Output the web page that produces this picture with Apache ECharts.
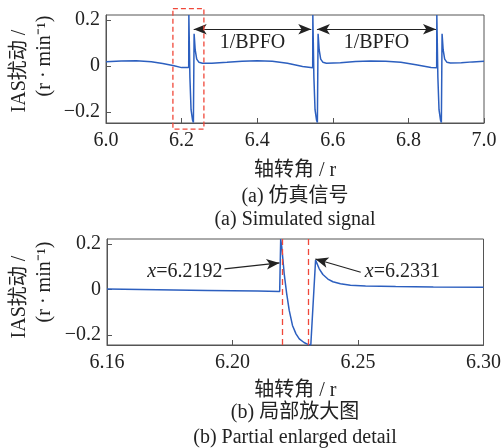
<!DOCTYPE html>
<html>
<head>
<meta charset="utf-8">
<script src="https://cdn.jsdelivr.net/npm/echarts@6/dist/echarts.min.js"></script>
<style>
  html, body { margin: 0; padding: 0; background: #fff; }
  #chart { width: 504px; height: 448px; }
</style>
</head>
<body>
<div id="chart"></div>
<script>
// (a) simulated signal, shaft angle in r and IAS disturbance
const topAngle = [
  6.000, 6.040, 6.080, 6.120, 6.150, 6.180, 6.200, 6.2188,
  6.2192, 6.2220, 6.2250, 6.2290, 6.2312, 6.2331, 6.2360, 6.2400, 6.2460, 6.2550,
  6.280, 6.320, 6.360, 6.400, 6.440, 6.480, 6.520, 6.5468,
  6.5472, 6.5500, 6.5530, 6.5570, 6.5592, 6.5611, 6.5640, 6.5680, 6.5740, 6.5830,
  6.620, 6.660, 6.700, 6.740, 6.780, 6.820, 6.860, 6.8748,
  6.8752, 6.8780, 6.8810, 6.8850, 6.8872, 6.8891, 6.8920, 6.8960, 6.9020, 6.9110,
  6.940, 6.970, 7.000
];
const topIAS = [
  0.019, 0.022, 0.023, 0.019, 0.011, 0.001, -0.007, -0.007,
  0.222, -0.050, -0.190, -0.236, -0.246, 0.140, 0.070, 0.030, 0.016, 0.012,
  0.012, 0.016, 0.021, 0.023, 0.021, 0.012, -0.002, -0.008,
  0.222, -0.050, -0.190, -0.236, -0.246, 0.140, 0.070, 0.030, 0.016, 0.012,
  0.014, 0.020, 0.022, 0.021, 0.016, 0.005, -0.006, -0.008,
  0.222, -0.050, -0.190, -0.236, -0.246, 0.140, 0.070, 0.030, 0.016, 0.013,
  0.014, 0.018, 0.021
];

// (b) partial enlarged detail
const zoomAngle = [
  6.150, 6.170, 6.190, 6.210, 6.2188,
  6.2192, 6.2196, 6.2200, 6.2206, 6.2216, 6.2226, 6.2239, 6.2253, 6.2266,
  6.2285, 6.2300, 6.2312, 6.2316,
  6.2331, 6.2345, 6.2360, 6.2380, 6.2400, 6.2430, 6.2470, 6.2530, 6.2650, 6.2800, 6.3000
];
const zoomIAS = [
  0.002, -0.001, -0.004, -0.007, -0.009,
  0.222, 0.190, 0.142, 0.069, -0.019, -0.092, -0.158, -0.195, -0.217,
  -0.233, -0.241, -0.244, -0.244,
  0.130, 0.092, 0.066, 0.046, 0.034, 0.025, 0.019, 0.015, 0.013, 0.011, 0.010
];

const yTicks = [-0.2, 0, 0.2];
const topTicks = [6.0, 6.2, 6.4, 6.6, 6.8, 7.0];
const zoomTicks = [6.15, 6.20, 6.25, 6.30];
const zoomTickLabels = ['6.16', '6.20', '6.25', '6.30'];

const bpfoSpans = [[6.232, 6.543], [6.558, 6.873]];
const impactAngles = [6.2192, 6.2331];

const serif = "'Liberation Serif', 'Noto Sans CJK SC', serif";
const blue = '#2c5fbf';
const red = '#f0483a';
const frame = '#555';

function toPairs(xs, ys) {
  return xs.map((x, i) => [x, ys[i]]);
}

function yFmt(v) {
  if (Math.abs(v) < 1e-9) return '0';
  return (v < 0 ? '\u2212' : '') + Math.abs(v).toFixed(1);
}

function xAxisBase(idx) {
  return {
    type: 'value',
    gridIndex: idx,
    axisLine: { show: true, onZero: false, lineStyle: { color: frame, width: 1 } },
    axisTick: { show: true, inside: true, length: 5, lineStyle: { color: frame } },
    splitLine: { show: false },
    axisLabel: { color: '#222', fontSize: 20, fontFamily: serif, margin: 8 },
    name: '轴转角 / r',
    nameLocation: 'middle',
    nameGap: 38,
    nameTextStyle: { color: '#222', fontSize: 20, fontFamily: serif }
  };
}

function yAxisBase(idx, min, max) {
  return {
    type: 'value',
    gridIndex: idx,
    min: min,
    max: max,
    axisLine: { show: true, onZero: false, lineStyle: { color: frame, width: 1 } },
    axisTick: { show: true, inside: true, length: 5, customValues: yTicks, lineStyle: { color: frame } },
    splitLine: { show: false },
    axisLabel: { color: '#222', fontSize: 20, fontFamily: serif, margin: 6, customValues: yTicks, formatter: yFmt }
  };
}

const chart = echarts.init(document.getElementById('chart'));

const xTop = xAxisBase(0);
xTop.min = 6.0;
xTop.max = 7.0;
xTop.axisTick.customValues = topTicks;
xTop.axisLabel.customValues = topTicks;
xTop.axisLabel.formatter = v => v.toFixed(1);

const xZoom = xAxisBase(1);
xZoom.min = 6.15;
xZoom.max = 6.30;
xZoom.nameGap = 36;
xZoom.axisTick.customValues = zoomTicks;
xZoom.axisLabel.customValues = zoomTicks;
xZoom.axisLabel.formatter = v => {
  const i = zoomTicks.findIndex(t => Math.abs(t - v) < 1e-6);
  return i >= 0 ? zoomTickLabels[i] : '';
};

const arrowEnd = { symbol: 'arrow', symbolSize: [8, 13] };

chart.setOption({
  animation: false,
  backgroundColor: '#fff',
  grid: [
    { left: 106, top: 15, width: 378, height: 108, show: true, borderColor: frame, borderWidth: 1 },
    { left: 107, top: 239, width: 378, height: 106, show: true, borderColor: frame, borderWidth: 1 }
  ],
  xAxis: [xTop, xZoom],
  yAxis: [yAxisBase(0, -0.248, 0.222), yAxisBase(1, -0.244, 0.222)],
  series: [
    {
      type: 'line',
      xAxisIndex: 0,
      yAxisIndex: 0,
      data: toPairs(topAngle, topIAS),
      showSymbol: false,
      lineStyle: { color: blue, width: 1.5 },
      markLine: {
        silent: true,
        animation: false,
        label: { show: false },
        lineStyle: { color: '#222', width: 1.2, type: 'solid' },
        data: bpfoSpans.map(s => [
          Object.assign({ coord: [s[0], 0.16] }, arrowEnd),
          Object.assign({ coord: [s[1], 0.16] }, arrowEnd)
        ])
      }
    },
    {
      type: 'line',
      xAxisIndex: 1,
      yAxisIndex: 1,
      data: toPairs(zoomAngle, zoomIAS),
      showSymbol: false,
      lineStyle: { color: blue, width: 1.5 },
      markLine: {
        silent: true,
        animation: false,
        symbol: 'none',
        label: { show: false },
        data: [
          { xAxis: impactAngles[0], lineStyle: { color: red, width: 1.3, type: [6, 4] } },
          { xAxis: impactAngles[1], lineStyle: { color: red, width: 1.3, type: [6, 4] } },
          [
            { coord: [6.1968, 0.091], symbol: 'none', lineStyle: { color: '#222', width: 1.2, type: 'solid' } },
            Object.assign({ coord: [6.2187, 0.117] }, arrowEnd)
          ],
          [
            { coord: [6.2511, 0.076], symbol: 'none', lineStyle: { color: '#222', width: 1.2, type: 'solid' } },
            Object.assign({ coord: [6.2330, 0.134] }, arrowEnd)
          ]
        ]
      }
    }
  ]
});

// annotations placed through the axes' own scales
const p0 = (x, y) => chart.convertToPixel({ gridIndex: 0 }, [x, y]);
const p1 = (x, y) => chart.convertToPixel({ gridIndex: 1 }, [x, y]);

const boxA = p0(6.177, 0.25);
const boxB = p0(6.259, -0.275);

function txt(x, y, text, opts) {
  return Object.assign({
    type: 'text',
    x: x,
    y: y,
    style: Object.assign({
      text: text,
      fill: '#222',
      font: '20px ' + serif,
      align: 'center',
      verticalAlign: 'middle'
    }, opts && opts.style)
  }, opts && opts.el);
}

const rich = {
  i: { fontStyle: 'italic', fontSize: 20, fontFamily: serif, fill: '#222' },
  n: { fontSize: 20, fontFamily: serif, fill: '#222' }
};

const g = [];
g.push({
  type: 'rect',
  shape: { x: boxA[0], y: boxA[1], width: boxB[0] - boxA[0], height: boxB[1] - boxA[1] },
  style: { fill: 'none', stroke: red, lineWidth: 1.3, lineDash: [5, 3] },
  z: 10
});
bpfoSpans.forEach(s => {
  const m = p0((s[0] + s[1]) / 2, 0.16);
  g.push(txt(m[0], m[1] + 14, '1/BPFO'));
});

const t1 = p1(6.1968, 0.091);
g.push({
  type: 'text', x: t1[0] - 2, y: t1[1] + 3,
  style: { text: '{i|x}{n|=6.2192}', rich: rich, align: 'right', verticalAlign: 'middle' }
});
const t2 = p1(6.2511, 0.076);
g.push({
  type: 'text', x: t2[0] + 4, y: t2[1],
  style: { text: '{i|x}{n|=6.2331}', rich: rich, align: 'left', verticalAlign: 'middle' }
});

// rotated y-axis titles
[[71, 56], [297, 282]].forEach(c => {
  g.push(txt(20, c[0], 'IAS扰动 /', { el: { rotation: Math.PI / 2 } }));
  g.push(txt(45, c[1], '(r · min\u207B\u00B9)', { el: { rotation: Math.PI / 2 } }));
});

// captions
g.push(txt(295, 197, '(a) 仿真信号'));
g.push(txt(295, 220, '(a) Simulated signal'));
g.push(txt(295, 413, '(b) 局部放大图'));
g.push(txt(295, 438, '(b) Partial enlarged detail'));

chart.setOption({ graphic: g });
</script>
</body>
</html>
